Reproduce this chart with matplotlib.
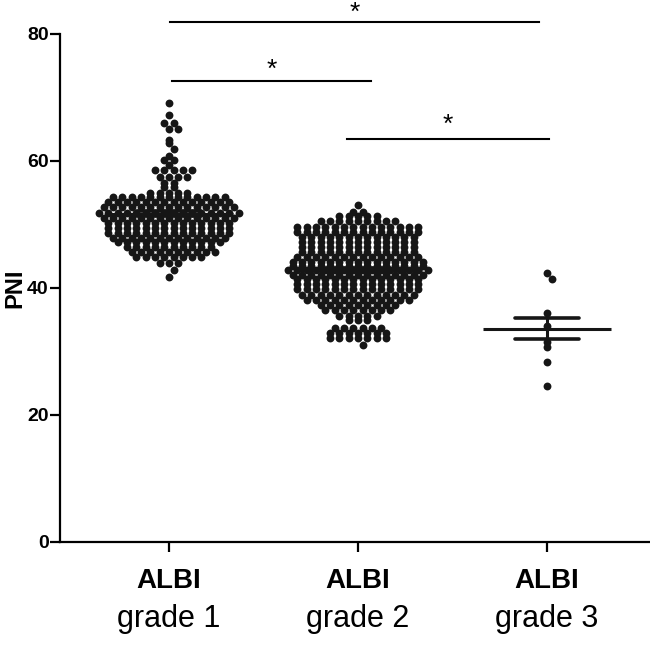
import numpy as np
import matplotlib
matplotlib.use('Agg')
import matplotlib.pyplot as plt

plt.rcParams['font.family'] = ['Liberation Sans', 'DejaVu Sans']

# PNI values, one row of dots per level
g1_levels = [69.2, 67.2, 66.0, 65.0, 63.3, 62.8, 61.9, 60.8, 60.2, 59.4, 58.5, 57.5,
             56.5, 55.9, 55.0, 54.3, 53.5, 52.7, 51.8, 51.0, 50.3, 49.5, 48.7, 47.9,
             47.2, 46.5, 45.6, 44.9, 43.9, 42.8, 41.8]
g1_counts = [1, 1, 2, 2, 1, 1, 1, 1, 2, 1, 5, 4,
             2, 2, 5, 13, 14, 15, 16, 15, 14, 14, 14, 13,
             12, 10, 10, 8, 3, 1, 1]

g2_levels = [53.1, 52.0, 51.3, 50.5, 49.6, 48.8, 48.1, 47.3, 46.5, 45.7, 44.9, 44.1,
             43.4, 42.8, 42.1, 41.4, 40.6, 39.8, 38.9, 38.1, 37.3, 36.5, 35.6, 35.0,
             33.7, 32.9, 32.1, 31.0]
g2_counts = [1, 2, 5, 9, 14, 14, 13, 13, 13, 13, 14, 15,
             15, 16, 15, 14, 14, 14, 13, 12, 9, 8, 5, 3,
             6, 7, 7, 1]

g3_levels = [42.4, 41.4, 36.0, 34.0, 31.5, 30.7, 28.4, 24.5]
g3_counts = [1, 1, 1, 1, 1, 1, 1, 1]

# mean and SEM as drawn
means = [51.7, 42.8, 33.6]
sems = [0.4, 0.35, 1.7]

categories = ['ALBI', 'ALBI', 'ALBI']
subtitles = ['grade 1', 'grade 2', 'grade 3']


def row_layout(levels, counts, px_x, px_y, pitch=9.3, diam=7.0):
    # rows of dots centred on the group, nudged half a step when they would collide
    xs, ys = [], []
    order = np.argsort(levels)[::-1]
    for k in order:
        lv, n = levels[k], counts[k]
        base = (np.arange(n) - (n - 1) / 2.0) * pitch
        shift = 0.0
        if xs:
            px = np.array(xs)
            py = (np.array(ys) - lv) * px_y
            for s in [0.0, pitch / 2, -pitch / 2]:
                d = np.sqrt((px[:, None] - (base + s)[None, :]) ** 2 + py[:, None] ** 2)
                if d.min() >= diam:
                    shift = s
                    break
        for b in base + shift:
            xs.append(b)
            ys.append(lv)
    return np.array(xs) / px_x, np.array(ys)


fig = plt.figure(figsize=(6.5, 6.48), dpi=100)
ax = fig.add_axes([0.092, 0.1636, 0.908, 0.784])
xlim = (-0.577, 2.545)
ax.set_xlim(*xlim)
ax.set_ylim(0, 80)

px_x = 0.908 * 650 / (xlim[1] - xlim[0])
px_y = 0.784 * 648 / 80.0

groups = [(g1_levels, g1_counts), (g2_levels, g2_counts), (g3_levels, g3_counts)]
for i, (lv, ct) in enumerate(groups):
    dx, y = row_layout(lv, ct, px_x, px_y)
    ax.scatter(i + dx, y, s=32, color='#161616', linewidths=0, zorder=3, clip_on=False)
    m, e = means[i], sems[i]
    ax.plot([i - 0.34, i + 0.34], [m, m], color='#161616', lw=2.2, zorder=4, solid_capstyle='butt')
    ax.plot([i - 0.17, i + 0.17], [m + e, m + e], color='#161616', lw=2.6, zorder=4, solid_capstyle='round')
    ax.plot([i - 0.17, i + 0.17], [m - e, m - e], color='#161616', lw=2.6, zorder=4, solid_capstyle='round')
    ax.plot([i, i], [m - e, m + e], color='#161616', lw=2.2, zorder=4)

# significance brackets: x from, x to, height, star gap
sig = [(0.005, 1.96, 81.9, 0.3), (0.016, 1.07, 72.6, 0.7), (0.94, 2.01, 63.5, 1.1)]
for x0, x1, yy, gap in sig:
    ax.plot([x0, x1], [yy, yy], color='black', lw=1.5, clip_on=False)
    ax.text((x0 + x1) / 2, yy + gap, '*', ha='center', va='baseline', fontsize=19, clip_on=False)

for side in ['top', 'right']:
    ax.spines[side].set_visible(False)
for side in ['left', 'bottom']:
    ax.spines[side].set_linewidth(1.6)

ax.set_yticks([0, 20, 40, 60, 80])
ax.tick_params(axis='y', length=7, width=1.6, labelsize=14, pad=1)
ax.tick_params(axis='x', length=7, width=1.6)
for lab in ax.get_yticklabels():
    lab.set_fontweight('bold')

ax.set_xticks([0, 1, 2])
ax.set_xticklabels(['' for _ in categories])
for i, (c, s) in enumerate(zip(categories, subtitles)):
    ax.text(i, -0.052, c, transform=ax.get_xaxis_transform(), ha='center', va='top',
            fontsize=20, fontweight='bold')
    ax.text(i, -0.122, s, transform=ax.get_xaxis_transform(), ha='center', va='top',
            fontsize=22)

ax.set_ylabel('PNI', fontsize=17, fontweight='bold')
ax.yaxis.set_label_coords(-0.056, 0.5)

fig.savefig('out.png', dpi=100)
